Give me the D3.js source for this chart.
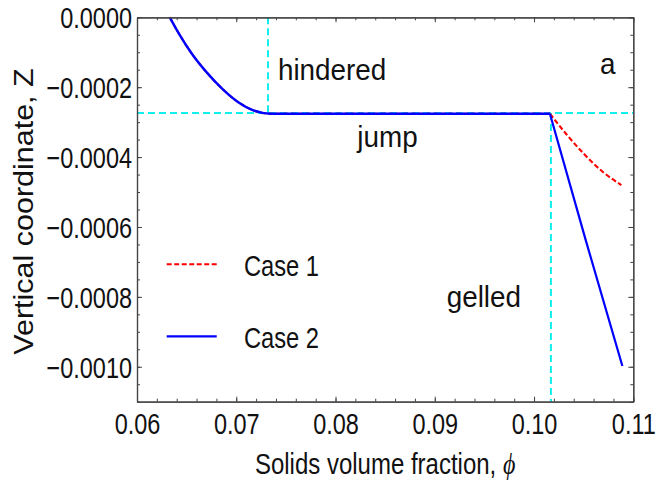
<!DOCTYPE html>
<html><head><meta charset="utf-8">
<script src="https://cdn.jsdelivr.net/npm/d3@7"></script>
<style>body{margin:0;background:#fff}svg{display:block}</style>
</head><body><svg id="c" width="658" height="486"></svg>
<script>
// ---- data ----
const xMajor = [0.06, 0.07, 0.08, 0.09, 0.10, 0.11];
const xTickLabels = ["0.06", "0.07", "0.08", "0.09", "0.10", "0.11"];
const yMajor = [0, -0.0002, -0.0004, -0.0006, -0.0008, -0.0010];
const yTickLabels = ["0.0000", "\u22120.0002", "\u22120.0004", "\u22120.0006", "\u22120.0008", "\u22120.0010"];
const xDomain = [0.06, 0.11];
const yDomain = [-0.0011, 0];
// shared hindered settling + jump (both cases)
const sharedPhi = [0.0633, 0.06433, 0.06551, 0.06702, 0.0687, 0.0702, 0.07172, 0.0735, 0.0750, 0.1016];
const sharedZ   = [0, -0.0000518, -0.0001037, -0.0001577, -0.0002075, -0.0002428, -0.0002664, -0.000276, -0.000276, -0.000276];
// gelled region
const case1Phi = [0.1016, 0.1033, 0.1050, 0.1070, 0.1088];
const case1Z   = [-0.000276, -0.000336, -0.000390, -0.000444, -0.000480];
const case2Phi = [0.1016, 0.1052, 0.1089];
const case2Z   = [-0.000276, -0.000637, -0.000998];
const seriesNames = ["Case 1", "Case 2"];
const hinderedPhi = 0.0732, gelPhi = 0.1017, jumpZ = -0.000274;
const annotations = [
  {text: "hindered", phi: 0.0742, z: -0.000178, anchor: "start"},
  {text: "a", phi: 0.1082, z: -0.000161, anchor: "end"},
  {text: "jump", phi: 0.0822, z: -0.000372, anchor: "start"},
  {text: "gelled", phi: 0.0912, z: -0.000828, anchor: "start"}
];

// ---- layout ----
const L = 137, R = 633.3, T = 17.3, B = 401.7;
const svg = d3.select("#c");
const x = d3.scaleLinear().domain(xDomain).range([L, R]);
const y = d3.scaleLinear().domain(yDomain).range([B, T]);
const FONT = "'Liberation Sans', Arial, sans-serif";
const frameCol = "#444";

// cyan guide lines
const guides = svg.append("g").attr("stroke", "#11eeee").attr("stroke-width", 2).attr("stroke-dasharray", "7,4").attr("fill", "none");
guides.append("line").attr("x1", x(xDomain[0])).attr("x2", x(xDomain[1])).attr("y1", y(jumpZ)).attr("y2", y(jumpZ));
guides.append("line").attr("x1", x(hinderedPhi)).attr("x2", x(hinderedPhi)).attr("y1", y(yDomain[1])).attr("y2", y(jumpZ));
guides.append("line").attr("x1", x(gelPhi)).attr("x2", x(gelPhi)).attr("y1", y(jumpZ)).attr("y2", y(yDomain[0]));

// curves
const lineSmooth = d3.line().x(d => x(d[0])).y(d => y(d[1])).curve(d3.curveMonotoneX);
const lineStraight = d3.line().x(d => x(d[0])).y(d => y(d[1]));
const shared = sharedPhi.map((p, i) => [p, sharedZ[i]]);
const c1 = case1Phi.map((p, i) => [p, case1Z[i]]);
const c2 = case2Phi.map((p, i) => [p, case2Z[i]]);
const curves = svg.append("g").attr("fill", "none");
curves.append("path").attr("d", lineSmooth(shared)).attr("stroke", "#ff0000").attr("stroke-width", 2).attr("stroke-dasharray", "5,2.5");
curves.append("path").attr("d", lineSmooth(c1)).attr("stroke", "#ff0000").attr("stroke-width", 2.1).attr("stroke-dasharray", "5,2.5");
curves.append("path").attr("d", lineSmooth(shared)).attr("stroke", "#0000ff").attr("stroke-width", 2.4);
curves.append("path").attr("d", lineStraight(c2)).attr("stroke", "#0000ff").attr("stroke-width", 2.2);

// axes / frame
const xMinor = d3.range(0.06, 0.11001, 0.002);
const yMinor = d3.range(-0.0011, 0.0000001, 0.00005);
function styleAxis(g) {
  g.attr("font-family", FONT);
  g.select(".domain").attr("stroke", frameCol).attr("stroke-width", 1.2);
  g.selectAll(".tick line").attr("stroke", frameCol).attr("stroke-width", 1);
}
const gB = svg.append("g").attr("transform", `translate(0,${B})`)
  .call(d3.axisBottom(x).tickValues(xMajor).tickSizeInner(-5).tickSizeOuter(0).tickPadding(0).tickFormat((d, i) => xTickLabels[i]));
styleAxis(gB);
gB.selectAll(".tick text").attr("y", 0).attr("dy", null).attr("fill", "#111").attr("font-size", 29)
  .attr("transform", "translate(0,32) scale(0.81,1)");
const gBm = svg.append("g").attr("transform", `translate(0,${B})`)
  .call(d3.axisBottom(x).tickValues(xMinor).tickSizeInner(-3).tickSizeOuter(0).tickFormat(""));
styleAxis(gBm);

const gL = svg.append("g").attr("transform", `translate(${L},0)`)
  .call(d3.axisLeft(y).tickValues(yMajor).tickSizeInner(-5).tickSizeOuter(0).tickPadding(0).tickFormat((d, i) => yTickLabels[i]));
styleAxis(gL);
gL.selectAll(".tick text").attr("x", 0).attr("dy", "0.36em").attr("fill", "#111").attr("font-size", 29)
  .attr("transform", "translate(-5,0) scale(0.81,1)");
const gLm = svg.append("g").attr("transform", `translate(${L},0)`)
  .call(d3.axisLeft(y).tickValues(yMinor).tickSizeInner(-3).tickSizeOuter(0).tickFormat(""));
styleAxis(gLm);

const gT = svg.append("g").attr("transform", `translate(0,${T})`)
  .call(d3.axisTop(x).tickValues(xMajor).tickSizeInner(-5).tickSizeOuter(0).tickFormat(""));
styleAxis(gT);
const gTm = svg.append("g").attr("transform", `translate(0,${T})`)
  .call(d3.axisTop(x).tickValues(xMinor).tickSizeInner(-3).tickSizeOuter(0).tickFormat(""));
styleAxis(gTm);
const gR = svg.append("g").attr("transform", `translate(${R},0)`)
  .call(d3.axisRight(y).tickValues(yMajor).tickSizeInner(-5).tickSizeOuter(0).tickFormat(""));
styleAxis(gR);
const gRm = svg.append("g").attr("transform", `translate(${R},0)`)
  .call(d3.axisRight(y).tickValues(yMinor).tickSizeInner(-3).tickSizeOuter(0).tickFormat(""));
styleAxis(gRm);

// axis titles
const xt = svg.append("text").attr("transform", `translate(${(L + R) / 2},474) scale(0.8,1)`)
  .attr("text-anchor", "middle").attr("font-family", FONT).attr("font-size", 30).attr("fill", "#111");
xt.append("tspan").text("Solids volume fraction, ");
xt.append("tspan").attr("font-family", "'Liberation Serif','DejaVu Serif',serif").attr("font-style", "italic").text("\u03D5");
svg.append("text").attr("transform", `translate(33,${(T + B) / 2 + 2}) scale(0.93,1) rotate(-90)`)
  .attr("text-anchor", "middle").attr("font-family", FONT).attr("font-size", 30.5).attr("fill", "#111")
  .text("Vertical coordinate, Z");

// annotations
annotations.forEach(a => {
  svg.append("text").attr("transform", `translate(${x(a.phi)},${y(a.z)}) scale(0.96,1)`)
    .attr("text-anchor", a.anchor).attr("font-family", FONT).attr("font-size", 29).attr("fill", "#111").text(a.text);
});

// legend
const legend = svg.append("g");
const legY = [264.3, 336.3];
const legStyles = [{c: "#ff0000", w: 2, dash: "5,2.5"}, {c: "#0000ff", w: 2.3, dash: null}];
seriesNames.forEach((name, i) => {
  legend.append("line").attr("x1", 166.7).attr("x2", 216.7).attr("y1", legY[i]).attr("y2", legY[i])
    .attr("stroke", legStyles[i].c).attr("stroke-width", legStyles[i].w).attr("stroke-dasharray", legStyles[i].dash);
  legend.append("text").attr("transform", `translate(244,${legY[i] + 11.3}) scale(0.79,1)`)
    .attr("font-family", FONT).attr("font-size", 30).attr("fill", "#111").text(name);
});
</script></body></html>
